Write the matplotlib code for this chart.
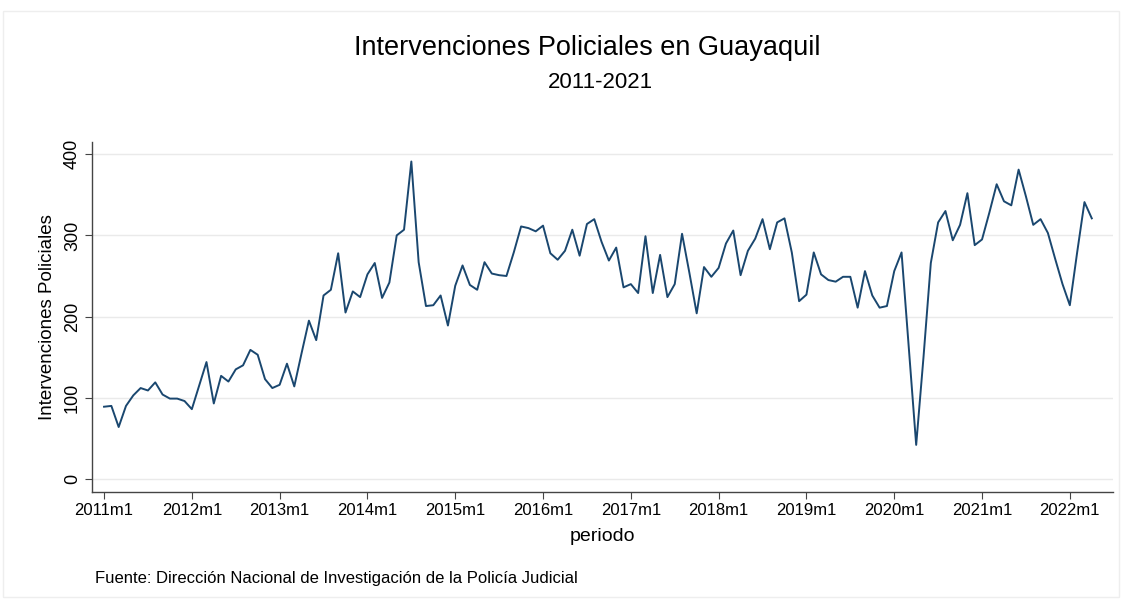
import numpy as np
import matplotlib
matplotlib.use("Agg")
import matplotlib.pyplot as plt
from matplotlib.patches import Rectangle

# datos mensuales 2011m1 - 2022m4
intervenciones = [
    89, 90, 64, 90, 103, 112, 109, 119, 104, 99, 99, 96,          # 2011
    86, 115, 144, 93, 127, 120, 135, 140, 159, 153, 123, 112,     # 2012
    116, 142, 114, 155, 195, 171, 226, 233, 278, 205, 231, 224,   # 2013
    252, 266, 223, 242, 300, 307, 391, 267, 213, 214, 226, 189,   # 2014
    238, 263, 239, 233, 267, 253, 251, 250, 279, 311, 309, 305,   # 2015
    312, 278, 270, 281, 307, 275, 314, 320, 292, 269, 285, 236,   # 2016
    240, 229, 299, 229, 276, 224, 240, 302, 254, 204, 261, 249,   # 2017
    260, 290, 306, 251, 281, 296, 320, 283, 316, 321, 279, 219,   # 2018
    227, 279, 252, 245, 243, 249, 249, 211, 256, 226, 211, 213,   # 2019
    256, 279, 160, 42, 150, 266, 316, 330, 294, 313, 352, 288,    # 2020
    295, 328, 363, 342, 337, 381, 348, 313, 320, 303, 271, 240,   # 2021
    214, 279, 341, 321,                                           # 2022
]
tick_labels = ["2011m1", "2012m1", "2013m1", "2014m1", "2015m1", "2016m1",
               "2017m1", "2018m1", "2019m1", "2020m1", "2021m1", "2022m1"]
y_ticks = [0, 100, 200, 300, 400]

plt.rcParams['font.family'] = ['Liberation Sans', 'DejaVu Sans']

periodo = np.arange(len(intervenciones))

fig = plt.figure(figsize=(11.28, 6.01), dpi=100)
fig.patches.append(Rectangle((0.003, 0.007), 0.989, 0.975, transform=fig.transFigure,
                             fill=False, edgecolor='#eeeeee', linewidth=1))
ax = fig.add_axes([0.0816, 0.1814, 0.9051, 0.5823])

ax.plot(periodo, intervenciones, color='#1a476f', linewidth=1.4)

ax.set_xlim(-1.64, 137.9)
ax.set_ylim(-16, 415)
ax.set_xticks(np.arange(0, 12 * len(tick_labels), 12))
ax.set_xticklabels(tick_labels, fontsize=12)
ax.set_yticks(y_ticks)
ax.set_yticklabels([str(v) for v in y_ticks], fontsize=13, rotation=90, va='center')

ax.grid(axis='y', color='#eaeaea', linewidth=1)
ax.set_axisbelow(True)
for s in ['top', 'right']:
    ax.spines[s].set_visible(False)
for s in ['left', 'bottom']:
    ax.spines[s].set_color('#444444')
    ax.spines[s].set_linewidth(1)
ax.tick_params(axis='both', length=5, color='#444444', pad=3)

ax.set_ylabel('Intervenciones Policiales', fontsize=13.5, labelpad=6)
ax.set_xlabel('periodo', fontsize=14, labelpad=7)

fig.text(0.521, 0.92, 'Intervenciones Policiales en Guayaquil', ha='center', va='center', fontsize=19.5)
fig.text(0.532, 0.862, '2011-2021', ha='center', va='center', fontsize=16)
fig.text(0.084, 0.038, 'Fuente: Dirección Nacional de Investigación de la Policía Judicial',
         ha='left', va='center', fontsize=12)

fig.savefig('out.png', dpi=100, facecolor='white')
